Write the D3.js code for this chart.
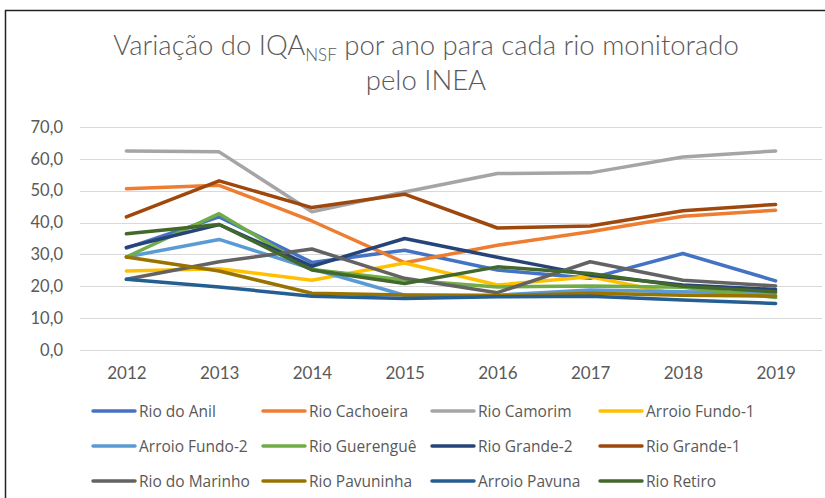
<!DOCTYPE html>
<html>
<head>
<meta charset="utf-8">
<style>
	body { margin: 0; background: #fff; }
	svg { display: block; }
	text { font-family: Lato, "Open Sans", sans-serif; fill: #595959; }
</style>
</head>
<body>
<script src="https://cdn.jsdelivr.net/npm/d3@7"></script>
<script>
// years on the category axis
var years = ["2012", "2013", "2014", "2015", "2016", "2017", "2018", "2019"];
var yTicks = [0, 10, 20, 30, 40, 50, 60, 70];

// one array per river (IQA-NSF)
var rioAnil       = [32.0, 41.8, 27.5, 31.3, 25.1, 22.5, 30.3, 21.7];
var rioCachoeira  = [50.6, 51.7, 40.5, 27.4, 32.9, 37.1, 42.0, 43.9];
var rioCamorim    = [62.5, 62.2, 43.4, 49.6, 55.4, 55.6, 60.6, 62.5];
var arroioFundo1  = [24.8, 25.5, 21.9, 27.3, 20.4, 23.0, 17.2, 17.2];
var arroioFundo2  = [29.2, 34.7, 25.5, 17.2, 17.2, 18.8, 18.3, 17.8];
var rioGuerengue  = [29.2, 42.8, 25.3, 22.0, 19.8, 20.1, 19.7, 16.5];
var rioGrande2    = [32.2, 39.4, 26.3, 35.0, 29.1, 23.5, 20.4, 19.0];
var rioGrande1    = [41.8, 53.1, 44.7, 48.9, 38.3, 38.9, 43.7, 45.7];
var rioMarinho    = [22.2, 27.7, 31.7, 22.5, 18.0, 27.7, 21.9, 20.1];
var rioPavuninha  = [29.2, 24.8, 17.8, 17.3, 17.0, 17.8, 17.2, 16.9];
var arroioPavuna  = [22.2, 19.8, 16.9, 16.2, 16.7, 16.9, 15.7, 14.6];
var rioRetiro     = [36.5, 39.4, 25.1, 20.9, 26.1, 24.0, 20.0, 18.3];

var seriesNames = ["Rio do Anil", "Rio Cachoeira", "Rio Camorim", "Arroio Fundo-1",
	"Arroio Fundo-2", "Rio Guerenguê", "Rio Grande-2", "Rio Grande-1",
	"Rio do Marinho", "Rio Pavuninha", "Arroio Pavuna", "Rio Retiro"];
var seriesValues = [rioAnil, rioCachoeira, rioCamorim, arroioFundo1,
	arroioFundo2, rioGuerengue, rioGrande2, rioGrande1,
	rioMarinho, rioPavuninha, arroioPavuna, rioRetiro];
var colors = ["#4472C4", "#ED7D31", "#A5A5A5", "#FFC000", "#5B9BD5", "#70AD47",
	"#264478", "#9E480E", "#636363", "#997300", "#255E91", "#43682B"];

var series = seriesNames.map(function(n, i) {
	return { name: n, values: seriesValues[i], color: colors[i] };
});

var W = 825, H = 498;
var plotLeft = 80, plotRight = 822, plotTop = 127, plotBottom = 350;

var svg = d3.select("body").append("svg")
	.attr("width", W)
	.attr("height", H);

// frame around the chart
svg.append("rect")
	.attr("x", 5.5).attr("y", 10.5)
	.attr("width", 840).attr("height", 520)
	.attr("fill", "none")
	.attr("stroke", "#222")
	.attr("stroke-width", 1.5);

var x = d3.scalePoint().domain(years).range([plotLeft, plotRight]).padding(0.5);
var y = d3.scaleLinear().domain([0, 70]).range([plotBottom, plotTop]);

// gridlines
svg.append("g")
	.selectAll("line").data(yTicks).enter()
	.append("line")
	.attr("x1", plotLeft).attr("x2", plotRight)
	.attr("y1", function(d) { return Math.round(y(d)) + 0.5; })
	.attr("y2", function(d) { return Math.round(y(d)) + 0.5; })
	.attr("stroke", "#d9d9d9")
	.attr("stroke-width", 1);

// y axis labels
var yAxis = svg.append("g")
	.attr("transform", "translate(" + (plotLeft - 17) + ",0)")
	.call(d3.axisLeft(y).tickValues(yTicks).tickSize(0).tickPadding(0)
		.tickFormat(function(d) { return d3.format(".1f")(d).replace(".", ","); }));
yAxis.select(".domain").remove();
yAxis.selectAll("text")
	.style("font-size", "16.5px")
	.style("font-family", "Lato, sans-serif")
	.attr("fill", "#595959");

// x axis labels
var xAxis = svg.append("g")
	.attr("transform", "translate(0," + (plotBottom + 17) + ")")
	.call(d3.axisBottom(x).tickSize(0).tickPadding(0));
xAxis.select(".domain").remove();
xAxis.selectAll("text")
	.style("font-size", "17px")
	.style("font-family", "Lato, sans-serif")
	.attr("fill", "#595959");

// lines
var line = d3.line()
	.x(function(d, i) { return x(years[i]); })
	.y(function(d) { return y(d); });

svg.append("g")
	.selectAll("path").data(series).enter()
	.append("path")
	.attr("d", function(d) { return line(d.values); })
	.attr("fill", "none")
	.attr("stroke", function(d) { return d.color; })
	.attr("stroke-width", 3.5)
	.attr("stroke-linejoin", "round")
	.attr("stroke-linecap", "round");

// title
var title = svg.append("text")
	.attr("x", 426).attr("y", 55)
	.attr("text-anchor", "middle")
	.style("font-size", "27.5px")
	.style("font-weight", 300);
title.append("tspan").text("Variação do IQA");
title.append("tspan").attr("dy", 6).style("font-size", "17px").text("NSF");
title.append("tspan").attr("dy", -6).text(" por ano para cada rio monitorado");

svg.append("text")
	.attr("x", 426).attr("y", 90)
	.attr("text-anchor", "middle")
	.style("font-size", "27.5px")
	.style("font-weight", 300)
	.text("pelo INEA");

// legend, 4 columns x 3 rows
var colX = [93, 263, 432, 600];
var rowY = [411, 446, 481];
var leg = svg.append("g")
	.selectAll("g").data(series).enter()
	.append("g")
	.attr("transform", function(d, i) {
		return "translate(" + colX[i % 4] + "," + rowY[Math.floor(i / 4)] + ")";
	});
leg.append("line")
	.attr("x1", 0).attr("x2", 42)
	.attr("y1", 0).attr("y2", 0)
	.attr("stroke", function(d) { return d.color; })
	.attr("stroke-width", 3.5)
	.attr("stroke-linecap", "round");
leg.append("text")
	.attr("x", 46).attr("y", 5.5)
	.style("font-size", "15.5px")
	.style("font-family", "'Open Sans', sans-serif")
	.text(function(d) { return d.name; });
</script>
</body>
</html>
